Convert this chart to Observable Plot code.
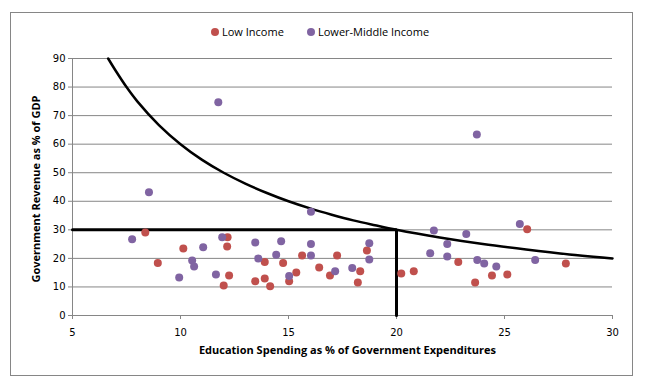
<!DOCTYPE html>
<html>
<head>
<meta charset="utf-8">
<script src="https://cdn.jsdelivr.net/npm/d3@7"></script>
<script src="https://cdn.jsdelivr.net/npm/@observablehq/plot@0.6"></script>
<style>
  html, body { margin: 0; padding: 0; background: #fff; }
  #wrap { position: relative; width: 645px; height: 388px; overflow: hidden; }
  #border { position: absolute; left: 10px; top: 12px; width: 623px; height: 364px; border: 1px solid #868686; box-sizing: border-box; }
  .leg { position: absolute; top: 24px; font-family: "Open Sans", sans-serif; font-size: 11px; color: #000; white-space: nowrap; line-height: 16px; }
  .leg span.dot { display: inline-block; width: 8px; height: 8px; border-radius: 50%; margin-right: 3px; vertical-align: -0px; }
  #chart { position: absolute; left: 0; top: 0; }
</style>
</head>
<body>
<div id="wrap">
  <div id="border"></div>
  <div id="chart"></div>
  <div class="leg" style="left:211px"><span class="dot" style="background:#C0504D"></span>Low Income</div>
  <div class="leg" style="left:307px"><span class="dot" style="background:#8064A2"></span>Lower-Middle Income</div>
</div>
<script>
// Series names
const seriesNames = ["Low Income", "Lower-Middle Income"];
const seriesColors = ["#C0504D", "#8064A2"];

// Low Income points (education spending %, revenue % GDP)
const lowX = [8.37, 8.95, 10.13, 12.0, 12.18, 12.16, 12.25, 13.46, 13.9, 13.9, 14.15, 14.75, 15.03, 15.36, 15.63, 16.42, 16.92, 17.25, 18.32, 18.21, 18.63, 20.22, 20.8, 22.86, 23.64, 24.42, 25.13, 26.05, 27.84];
const lowY = [29.1, 18.4, 23.5, 10.5, 27.4, 24.2, 14.0, 12.0, 18.7, 13.0, 10.2, 18.4, 12.0, 15.1, 21.0, 16.8, 14.0, 21.0, 15.5, 11.6, 22.8, 14.7, 15.5, 18.7, 11.6, 14.0, 14.4, 30.2, 18.2];

// Lower-Middle Income points
const lmX = [8.54, 7.76, 9.94, 10.54, 10.63, 11.05, 11.64, 11.93, 11.75, 13.46, 13.6, 14.43, 14.66, 15.03, 16.04, 16.04, 16.04, 17.16, 17.95, 18.74, 18.74, 21.56, 21.73, 22.35, 22.35, 23.23, 23.72, 23.74, 24.06, 24.62, 25.71, 26.42];
const lmY = [43.2, 26.7, 13.3, 19.3, 17.2, 23.9, 14.4, 27.4, 74.7, 25.6, 20.0, 21.3, 26.0, 13.8, 36.3, 25.0, 21.0, 15.5, 16.6, 25.3, 19.6, 21.8, 29.8, 25.0, 20.7, 28.5, 63.4, 19.4, 18.2, 17.2, 32.0, 19.4];

// Reference curve points
const curveX = [6.65, 7, 7.5, 8, 9, 10, 11, 12, 13, 14, 15, 16, 17, 18, 19, 20, 22, 24, 26, 28, 30];
const curveY = [90, 85.7, 80, 75, 66.7, 60, 54.5, 50, 46.2, 42.9, 40, 37.5, 35.3, 33.3, 31.6, 30, 27.3, 25, 23.1, 21.4, 20];

// Threshold lines
const threshX = [5, 20, 20];
const threshY = [30, 30, 0];

// Ticks and labels
const xTicks = [5, 10, 15, 20, 25, 30];
const yTicks = [0, 10, 20, 30, 40, 50, 60, 70, 80, 90];
const xTitle = "Education Spending as % of Government Expenditures";
const yTitle = "Government Revenue as % of GDP";

const points = [
  ...lowX.map((x, i) => ({x, y: lowY[i], s: seriesNames[0]})),
  ...lmX.map((x, i) => ({x, y: lmY[i], s: seriesNames[1]}))
];
const curve = curveX.map((x, i) => ({x, y: curveY[i]}));
const thresh = threshX.map((x, i) => ({x, y: threshY[i]}));

const chart = Plot.plot({
  width: 645,
  height: 388,
  marginLeft: 72,
  marginRight: 33,
  marginTop: 58,
  marginBottom: 73,
  style: {background: "transparent", fontFamily: "DejaVu Sans, sans-serif", fontSize: "10px", color: "#000"},
  x: {domain: [5, 30], ticks: xTicks},
  y: {domain: [0, 90], ticks: yTicks},
  color: {domain: seriesNames, range: seriesColors},
  marks: [
    Plot.gridY(yTicks, {stroke: "#868686", strokeOpacity: 1, strokeWidth: 1}),
    Plot.ruleX([5], {stroke: "#868686"}),
    Plot.ruleY([0], {stroke: "#868686"}),
    Plot.axisX({ticks: xTicks, tickSize: 4, tickPadding: 9, stroke: "#868686", label: null, fill: "#000"}),
    Plot.axisY({ticks: yTicks, tickSize: 4, tickPadding: 3, stroke: "#868686", label: null, fill: "#000"}),
    Plot.line(thresh, {x: "x", y: "y", stroke: "#000", strokeWidth: 3, strokeLinejoin: "miter"}),
    Plot.line(curve, {x: "x", y: "y", stroke: "#000", strokeWidth: 2.5, curve: "catmull-rom"}),
    Plot.dot(points, {x: "x", y: "y", fill: "s", r: 4, stroke: "none"}),
    Plot.text([xTitle], {frameAnchor: "bottom", dy: 38, dx: 5, text: d => d, fontFamily: "Open Sans, sans-serif", fontWeight: "bold", fontSize: 11, fill: "#000"}),
    Plot.text([yTitle], {frameAnchor: "left", textAnchor: "middle", lineAnchor: "middle", dx: -36, dy: 2, rotate: -90, text: d => d, fontFamily: "Open Sans, sans-serif", fontWeight: "bold", fontSize: 11, fill: "#000"})
  ]
});
document.getElementById("chart").appendChild(chart);
</script>
</body>
</html>
